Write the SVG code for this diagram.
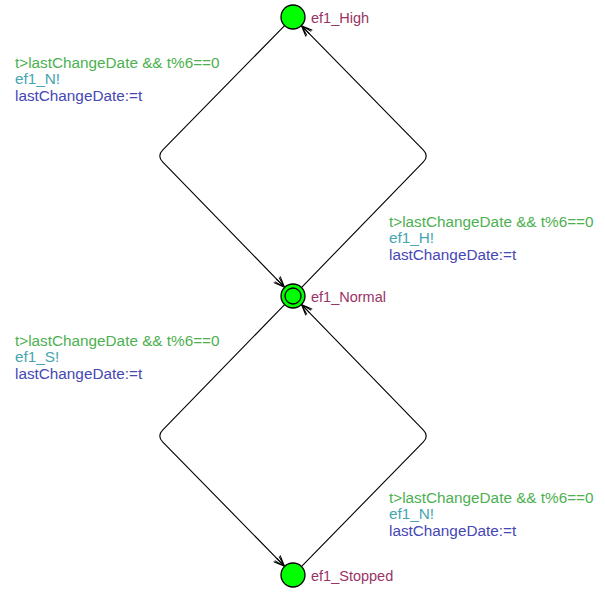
<svg xmlns="http://www.w3.org/2000/svg" width="605" height="594" viewBox="0 0 605 594">
<style>
.loc{fill:#00ff00;stroke:#000;stroke-width:1.3}
.edge{fill:none;stroke:#000;stroke-width:1.1}
.name{font-family:"Liberation Sans",Arial,sans-serif;font-size:14.5px;fill:#993366}
.lbl{font-family:"Liberation Sans",Arial,sans-serif;font-size:15.3px}
.g{fill:#4cb050}
.s{fill:#45a5b0}
.u{fill:#4646b4}
</style>
<defs>
<marker id="arr" viewBox="-12 -6 13 12" refX="0" refY="0" markerWidth="13" markerHeight="12" markerUnits="userSpaceOnUse" orient="auto">
<path d="M-11,-4.5 L0,0 L-11,4.5 M-11,-3 L0,0 L-11,3 M-12,0 L0,0" fill="none" stroke="#000" stroke-width="1"/>
</marker>
</defs>
<g id="connectors">
<path class="edge" marker-end="url(#arr)" d="M284.6,25.6 L162.6,150.2 Q157,156 162.6,161.8 L284.6,287.4"/>
<path class="edge" marker-end="url(#arr)" d="M301.4,287.6 L423.4,161.8 Q429,156 423.4,150.2 L301.4,25.6"/>
<path class="edge" marker-end="url(#arr)" d="M284.6,304.6 L162.6,430.2 Q157,436 162.6,441.8 L284.6,566.4"/>
<path class="edge" marker-end="url(#arr)" d="M301.4,566.6 L423.4,441.8 Q429,436 423.4,430.2 L301.4,304.4"/>
</g>
<g id="ef1_High">
<circle class="loc" cx="293" cy="17" r="12"/>
<text class="name" x="311" y="23">ef1_High</text>
</g>
<g id="ef1_Normal">
<circle class="loc" cx="293" cy="296" r="12"/>
<circle class="loc" cx="293" cy="296" r="8"/>
<text class="name" x="311" y="302">ef1_Normal</text>
</g>
<g id="ef1_Stopped">
<circle class="loc" cx="293" cy="575" r="12"/>
<text class="name" x="311" y="581">ef1_Stopped</text>
</g>
<g id="label_high_normal">
<text class="lbl g" x="15" y="68">t&gt;lastChangeDate &amp;&amp; t%6==0</text>
<text class="lbl s" x="15" y="84">ef1_N!</text>
<text class="lbl u" x="15" y="101">lastChangeDate:=t</text>
</g>
<g id="label_normal_high">
<text class="lbl g" x="389" y="227">t&gt;lastChangeDate &amp;&amp; t%6==0</text>
<text class="lbl s" x="389" y="243">ef1_H!</text>
<text class="lbl u" x="389" y="260">lastChangeDate:=t</text>
</g>
<g id="label_normal_stopped">
<text class="lbl g" x="15" y="346">t&gt;lastChangeDate &amp;&amp; t%6==0</text>
<text class="lbl s" x="15" y="362">ef1_S!</text>
<text class="lbl u" x="15" y="379">lastChangeDate:=t</text>
</g>
<g id="label_stopped_normal">
<text class="lbl g" x="389" y="503">t&gt;lastChangeDate &amp;&amp; t%6==0</text>
<text class="lbl s" x="389" y="519">ef1_N!</text>
<text class="lbl u" x="389" y="536">lastChangeDate:=t</text>
</g>
</svg>
